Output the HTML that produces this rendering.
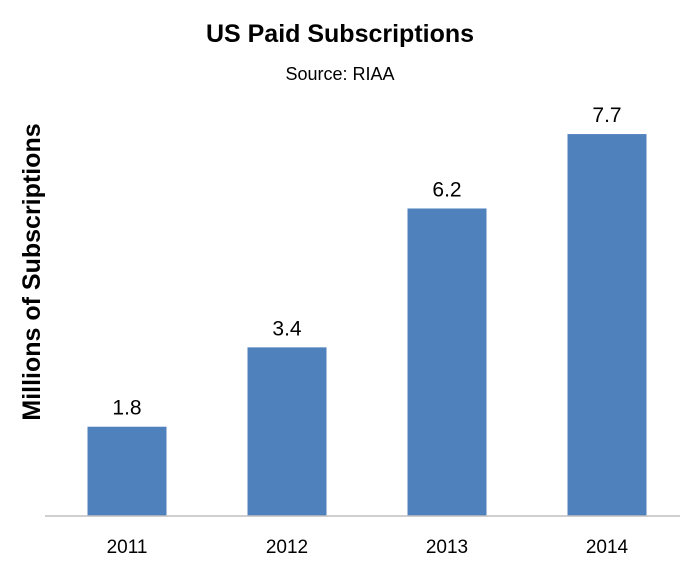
<!DOCTYPE html>
<html><head><meta charset="utf-8"><style>body{margin:0;background:#fff}svg text{font-family:"Liberation Sans",sans-serif}</style></head>
<body>
<svg width="698" height="578" xmlns="http://www.w3.org/2000/svg">
<text x="340" y="42" text-anchor="middle" font-size="25" font-weight="bold">US Paid Subscriptions</text>
<text x="340" y="80" text-anchor="middle" font-size="18">Source: RIAA</text>
<text transform="translate(40,272) rotate(-90)" text-anchor="middle" font-size="25" font-weight="bold">Millions of Subscriptions</text>
<g id="bars"></g>
<line x1="45" y1="516" x2="680" y2="516" stroke="#bfbfbf" stroke-width="1.5"/>
</svg>
<script>
const categories=["2011","2012","2013","2014"];
const values=[1.8,3.4,6.2,7.7];
const valueLabels=["1.8","3.4","6.2","7.7"];
const base=516,scale=49.6,x0=47,step=160,bw=79;
const ns="http://www.w3.org/2000/svg";
const g=document.getElementById('bars');
function xc(i){return x0+step*i+step/2;}
function y(v){return base-v*scale;}
categories.forEach((c,i)=>{
 const r=document.createElementNS(ns,'rect');
 
 
 r.setAttribute('x',xc(i)-bw/2);r.setAttribute('y',y(values[i]));
 r.setAttribute('width',bw);r.setAttribute('height',base-y(values[i]));
 r.setAttribute('fill','#4f81bd');g.appendChild(r);
 const t=document.createElementNS(ns,'text');
 
 
 t.setAttribute('x',xc(i));t.setAttribute('y',y(values[i])-12);
 t.setAttribute('text-anchor','middle');t.setAttribute('font-size','21');
 t.textContent=valueLabels[i];g.appendChild(t);
 const l=document.createElementNS(ns,'text');
 
 
 l.setAttribute('x',xc(i));l.setAttribute('y',553);
 l.setAttribute('text-anchor','middle');l.setAttribute('font-size','19');
 l.textContent=c;g.appendChild(l);
});
</script>
</body></html>
